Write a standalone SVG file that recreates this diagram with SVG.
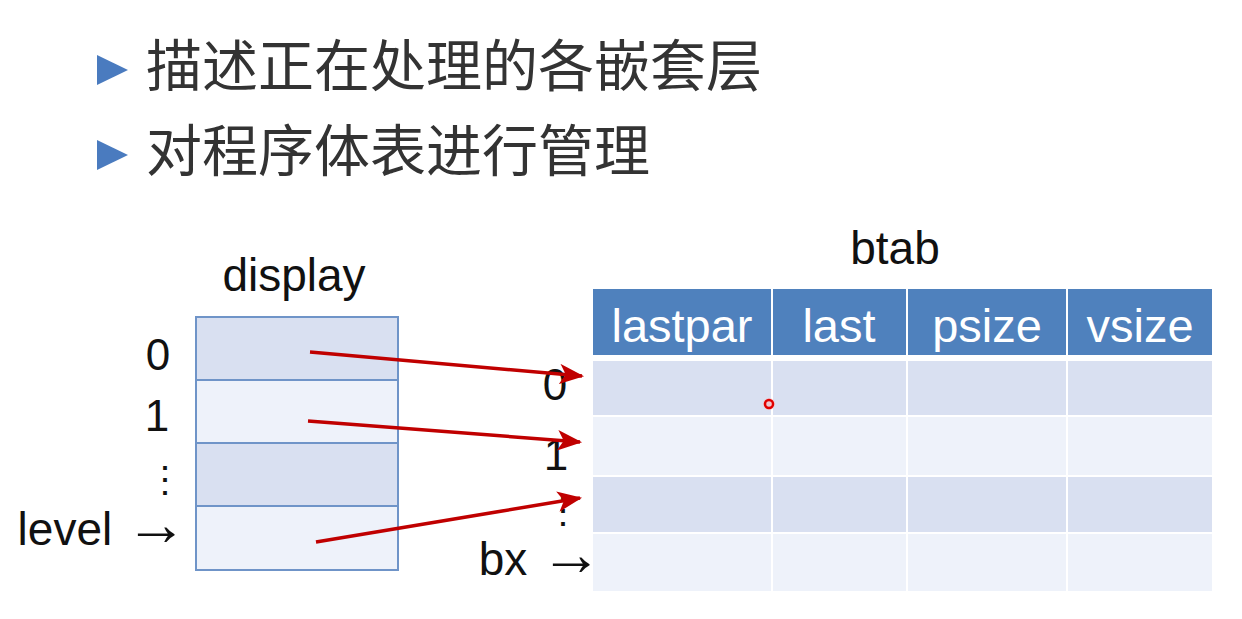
<svg xmlns="http://www.w3.org/2000/svg" width="1242" height="619" viewBox="0 0 1242 619">
<style>
.t{font-family:"Liberation Sans",Arial,sans-serif;fill:#111;}
.ar{font-size:62px;}
.cjk{font-family:"Noto Sans CJK SC","Noto Sans",sans-serif;fill:#333;font-size:56px;}
.hd{font-family:"Liberation Sans",Arial,sans-serif;fill:#fff;font-size:47px;text-anchor:middle;}
.dk{fill:#d9e0f1;}
.lt{fill:#eef2fa;}
.hb{fill:#4f81bd;}
.arr{stroke:#c00000;stroke-width:3.5;fill:none;marker-end:url(#ah);}
</style>
<defs>
<marker id="ah" viewBox="0 0 12 10" refX="11" refY="5" markerWidth="7" markerHeight="6" orient="auto" markerUnits="strokeWidth">
<path d="M0,0 L12,5 L0,10 L3,5 Z" fill="#c00000"/>
</marker>
</defs>
<rect width="1242" height="619" fill="#fff"/>
<g id="title">
<polygon points="97,55 128,70 97,85" fill="#4a7bbf"/>
<text class="cjk" x="146" y="86">描述正在处理的各嵌套层</text>
<polygon points="97,140 128,155 97,170" fill="#4a7bbf"/>
<text class="cjk" x="146" y="171">对程序体表进行管理</text>
</g>
<g id="display">
<text class="t" x="294" y="291" font-size="46" text-anchor="middle">display</text>
<rect class="dk" x="196" y="317" width="202" height="63"/>
<rect class="lt" x="196" y="380" width="202" height="63"/>
<rect class="dk" x="196" y="443" width="202" height="63"/>
<rect class="lt" x="196" y="506" width="202" height="64"/>
<g stroke="#6f94c8" stroke-width="2" fill="none">
<rect x="196" y="317" width="202" height="253"/>
<line x1="196" y1="380" x2="398" y2="380"/>
<line x1="196" y1="443" x2="398" y2="443"/>
<line x1="196" y1="506" x2="398" y2="506"/>
</g>
<text class="t" x="158" y="370" font-size="44" text-anchor="middle">0</text>
<text class="t" x="157" y="431" font-size="44" text-anchor="middle">1</text>
<text class="t" x="165" y="492" font-size="36" text-anchor="middle">⋮</text>
<text class="t" x="187" y="545" font-size="46" text-anchor="end">level <tspan class="ar">→</tspan></text>
</g>
<g id="btab">
<text class="t" x="895" y="264" font-size="46" text-anchor="middle">btab</text>
<rect class="hb" x="593" y="289" width="178" height="66"/>
<rect class="hb" x="773" y="289" width="133" height="66"/>
<rect class="hb" x="908" y="289" width="158" height="66"/>
<rect class="hb" x="1068" y="289" width="144" height="66"/>
<text class="hd" x="682" y="342">lastpar</text>
<text class="hd" x="839" y="342">last</text>
<text class="hd" x="987" y="342">psize</text>
<text class="hd" x="1140" y="342">vsize</text>
<g class="dk">
<rect x="593" y="361" width="178" height="54"/><rect x="773" y="361" width="133" height="54"/><rect x="908" y="361" width="158" height="54"/><rect x="1068" y="361" width="144" height="54"/>
<rect x="593" y="477" width="178" height="55"/><rect x="773" y="477" width="133" height="55"/><rect x="908" y="477" width="158" height="55"/><rect x="1068" y="477" width="144" height="55"/>
</g>
<g class="lt">
<rect x="593" y="417" width="178" height="58"/><rect x="773" y="417" width="133" height="58"/><rect x="908" y="417" width="158" height="58"/><rect x="1068" y="417" width="144" height="58"/>
<rect x="593" y="534" width="178" height="57"/><rect x="773" y="534" width="133" height="57"/><rect x="908" y="534" width="158" height="57"/><rect x="1068" y="534" width="144" height="57"/>
</g>
<text class="t" x="555" y="400" font-size="44" text-anchor="middle">0</text>
<text class="t" x="556" y="470" font-size="44" text-anchor="middle">1</text>
<text class="t" x="563" y="523" font-size="36" text-anchor="middle">⋮</text>
<text class="t" x="602" y="575" font-size="46" text-anchor="end">bx <tspan class="ar">→</tspan></text>
<circle cx="769" cy="404" r="6" fill="#ffb0b0" fill-opacity="0.5"/>
<circle cx="769" cy="404" r="4" fill="none" stroke="#e00000" stroke-width="2.5"/>
</g>
<g id="connectors">
<line class="arr" x1="310" y1="352" x2="582" y2="376"/>
<line class="arr" x1="308" y1="421" x2="580" y2="442"/>
<line class="arr" x1="316" y1="542" x2="580" y2="498"/>
</g>
</svg>
